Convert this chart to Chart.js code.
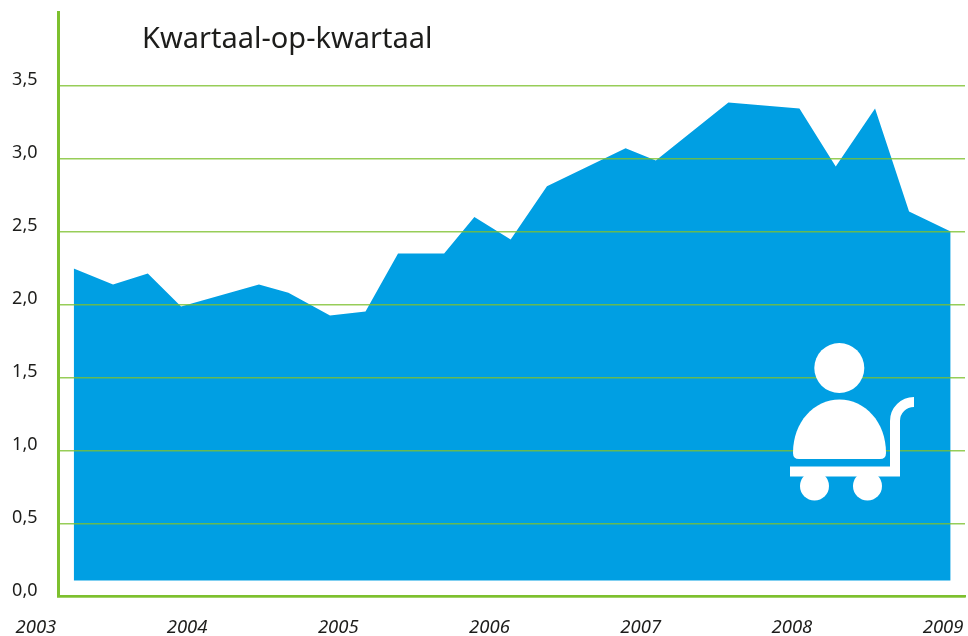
<!DOCTYPE html>
<html lang="nl">
<head>
<meta charset="utf-8">
<title>Kwartaal-op-kwartaal</title>
<style>html,body{margin:0;padding:0;background:#fff}canvas{display:block}</style>
<script src="https://cdn.jsdelivr.net/npm/chart.js@4/dist/chart.umd.min.js"></script>
</head>
<body>
<canvas id="c" width="968" height="636"></canvas>
<script>
const chartTitle = 'Kwartaal-op-kwartaal';
const xYears = [2003.25,2003.51,2003.74,2003.96,2004.475,2004.67,2004.945,2005.18,2005.395,2005.70,2005.90,2006.14,2006.38,2006.90,2007.10,2007.58,2008.05,2008.29,2008.55,2008.775,2009.05];
const yValues = [2.247,2.137,2.212,1.986,2.137,2.08,1.925,1.952,2.35,2.35,2.60,2.445,2.81,3.07,2.986,3.384,3.342,2.945,3.342,2.637,2.50];
const areaBase = 0.11;
const xTickYears = [2003,2004,2005,2006,2007,2008,2009];
const yTickValues = [0,0.5,1,1.5,2,2.5,3,3.5];

const BLUE = '#009FE3', GREEN = '#7DC02E', INK = '#1d1d1b';
const FONT = '"Noto Sans"';

const titlePlugin = {
  id: 'titleText',
  afterDraw(chart) {
    const c = chart.ctx;
    c.save();
    c.fillStyle = INK;
    c.font = '29px ' + FONT;
    c.textAlign = 'left';
    c.textBaseline = 'alphabetic';
    c.fillText(chartTitle, 142, 48);
    c.restore();
  }
};

const iconPlugin = {
  id: 'cartIcon',
  afterDraw(chart) {
    const c = chart.ctx;
    c.save();
    c.fillStyle = '#fff';
    c.strokeStyle = '#fff';
    c.beginPath(); c.arc(839.3, 368, 25, 0, Math.PI * 2); c.fill();
    c.beginPath();
    c.moveTo(793, 453);
    c.bezierCurveTo(793, 422, 814, 399.5, 839.5, 399.5);
    c.bezierCurveTo(865, 399.5, 886, 422, 886, 453);
    c.quadraticCurveTo(886, 459, 880, 459);
    c.lineTo(799, 459);
    c.quadraticCurveTo(793, 459, 793, 453);
    c.closePath(); c.fill();
    c.lineWidth = 10;
    c.beginPath();
    c.moveTo(790, 471.5);
    c.lineTo(895, 471.5);
    c.lineTo(895, 421);
    c.arc(914, 421, 19, Math.PI, Math.PI * 1.5);
    c.stroke();
    c.beginPath(); c.arc(814.5, 486, 14.5, 0, Math.PI * 2); c.fill();
    c.beginPath(); c.arc(867.5, 486, 14.5, 0, Math.PI * 2); c.fill();
    c.restore();
  }
};

new Chart(document.getElementById('c'), {
  type: 'line',
  data: {
    datasets: [{
      label: chartTitle,
      data: xYears.map((x, i) => ({ x, y: yValues[i] })),
      borderWidth: 0,
      borderColor: BLUE,
      backgroundColor: BLUE,
      pointRadius: 0,
      tension: 0,
      fill: { value: areaBase }
    }]
  },
  plugins: [titlePlugin, iconPlugin],
  options: {
    responsive: false,
    animation: false,
    layout: { padding: { top: 12.5, right: 3, left: 0, bottom: 0 } },
    plugins: { legend: { display: false }, tooltip: { enabled: false } },
    scales: {
      x: {
        type: 'linear',
        min: 2003.146,
        max: 2009.145,
        afterBuildTicks(s) { s.ticks = xTickYears.map(value => ({ value })); },
        afterFit(s) { s.height = 39.5; s.paddingLeft = 0; s.paddingRight = 0; },
        grid: { display: false, drawTicks: false },
        border: { color: GREEN, width: 2.5, z: 2 },
        ticks: {
          autoSkip: false, maxRotation: 0, minRotation: 0, padding: 20, color: INK,
          font: { family: FONT, size: 18.5, style: 'italic' },
          callback: v => String(v)
        }
      },
      y: {
        min: 0,
        max: 4,
        afterBuildTicks(s) { s.ticks = yTickValues.map(value => ({ value })); },
        afterFit(s) { s.width = 58; s.paddingTop = 0; s.paddingBottom = 0; },
        grid: { color: 'rgba(125,192,46,0.8)', lineWidth: 1.5, z: 1, drawTicks: false },
        border: { color: GREEN, width: 3, z: 2 },
        ticks: {
          padding: 20.5, color: INK, labelOffset: -6,
          font: { family: FONT, size: 18 },
          callback: v => v.toFixed(1).replace('.', ',')
        }
      }
    }
  }
});
</script>
</body>
</html>
